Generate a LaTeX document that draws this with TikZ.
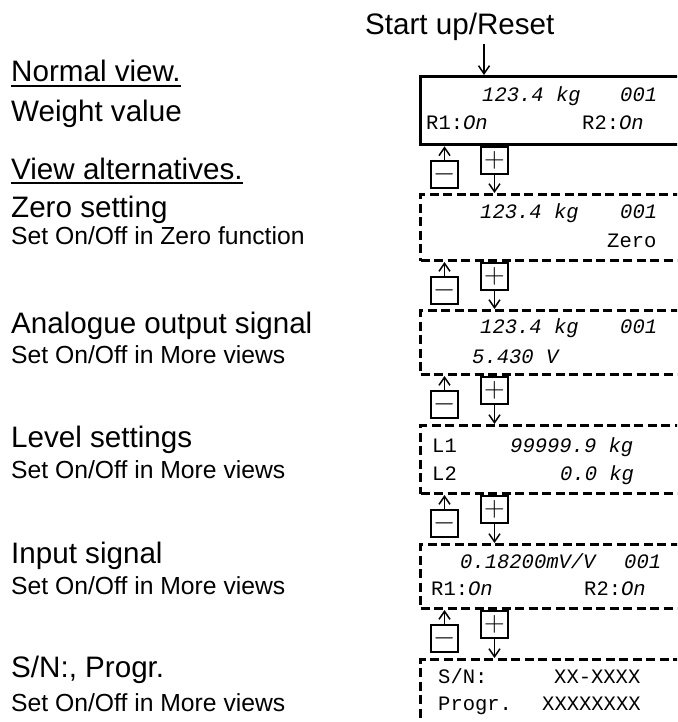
\documentclass[tikz,border=0pt]{standalone}
\usepackage{fontspec}
\usepackage{graphicx}
\newfontfamily\arial{Liberation Sans}
\newfontfamily\lcd{Liberation Mono}
\usetikzlibrary{arrows.meta}
\tikzset{
  big/.style={font=\arial\fontsize{29.6}{34}\selectfont, anchor=base west, inner sep=0pt},
  small/.style={font=\arial\fontsize{24.7}{28}\selectfont, anchor=base west, inner sep=0pt},
  lcdtext/.style={font=\lcd\fontsize{20.5}{24}\selectfont, anchor=base west, inner sep=0pt},
  solidbox/.style={draw, line width=3.3pt, minimum width=300pt, anchor=north west, inner sep=0pt},
  dashbox/.style={solidbox, line width=3pt, dash pattern=on 9pt off 4.5pt},
  keybox/.style={draw, line width=1.3pt, minimum size=27pt, inner sep=0pt, font=\fontsize{24.88}{26}\selectfont},
  flow/.style={line width=1.5pt, -{Straight Barb[length=8pt,width=11pt]}},
  uline/.style={line width=2pt},
}
\newcommand{\keyplus}{\scalebox{1.15}{$+$}}
\newcommand{\keyminus}{\scalebox{1.15}{$-$}}
\begin{document}
\begin{tikzpicture}[x=1pt,y=-1pt]
\clip (0,0) rectangle (677,722);
\fill[white] (0,0) rectangle (677,722);

% start
\node[big] (start) at (365,35) {Start up/Reset};
\coordinate (startarrow) at (484,44);

% display boxes
\node[solidbox, minimum height=68pt] (v1) at (419,75) {};
\node[dashbox, minimum height=66pt] (v2) at (419,193) {};
\node[dashbox, minimum height=64pt] (v3) at (419,309) {};
\node[dashbox, minimum height=68pt] (v4) at (419,424) {};
\node[dashbox, minimum height=64pt] (v5) at (419,543) {};
\node[dashbox, minimum height=80pt] (v6) at (419,658) {};

\draw[flow] (startarrow) -- (startarrow |- v1.north);

% keys and arrows
\foreach \b/\i/\j in {143/1/2, 259/2/3, 373/3/4, 492/4/5, 607/5/6}{
  \node[keybox] (p\i) at (494.5,\b+17.5) {\keyplus};
  \node[keybox] (m\i) at (444.5,\b+31.5) {\keyminus};
  \draw[flow] (m\i.north) -- (m\i.north |- v\i.south);
  \draw[flow] (p\i.south) -- (p\i.south |- v\j.north);
}

% box 1
\node[lcdtext] (a1) at (482,102) {\textit{123.4 kg}};
\node[lcdtext] (a2) at (620,102) {\textit{001}};
\node[lcdtext] (a3) at (426,130) {R1:\textit{On}};
\node[lcdtext] (a4) at (582,130) {R2:\textit{On}};
% box 2
\node[lcdtext] (b1) at (480,218) {\textit{123.4 kg}};
\node[lcdtext] (b2) at (620,218) {\textit{001}};
\node[lcdtext] (b3) at (607,247) {Zero};
% box 3
\node[lcdtext] (c1) at (480,333) {\textit{123.4 kg}};
\node[lcdtext] (c2) at (620,333) {\textit{001}};
\node[lcdtext] (c3) at (472,363) {\textit{5.430 V}};
% box 4
\node[lcdtext] (d1) at (432,452) {L1};
\node[lcdtext] (d2) at (510,452) {\textit{99999.9 kg}};
\node[lcdtext] (d3) at (432,480) {L2};
\node[lcdtext] (d4) at (560,480) {\textit{0.0 kg}};
% box 5
\node[lcdtext] (e1) at (460,568) {\textit{0.18200mV/V}};
\node[lcdtext] (e2) at (624,568) {\textit{001}};
\node[lcdtext] (e3) at (431,595) {R1:\textit{On}};
\node[lcdtext] (e4) at (584,595) {R2:\textit{On}};
% box 6
\node[lcdtext] (f1) at (438,683) {S/N:};
\node[lcdtext] (f2) at (554,683) {XX-XXXX};
\node[lcdtext] (f3) at (438,710) {Progr.};
\node[lcdtext] (f4) at (542,710) {XXXXXXXX};

% left labels
\node[big] (nv) at (11,82) {Normal view.};
\draw[uline] ([yshift=-4pt]nv.base west) -- ([yshift=-4pt]nv.base east);
\node[big] (wv) at (11,122) {Weight value};
\node[big] (va) at (11,179) {View alternatives.};
\draw[uline] ([yshift=-4pt]va.base west) -- ([yshift=-4pt]va.base east);
\node[big] (zs) at (11,217) {Zero setting};
\node[small] (zs2) at (11,244) {Set On/Off in Zero function};
\node[big] (ao) at (11,333) {Analogue output signal};
\node[small] (ao2) at (11,363) {Set On/Off in More views};
\node[big] (ls) at (11,447) {Level settings};
\node[small] (ls2) at (11,478) {Set On/Off in More views};
\node[big] (is) at (11,563) {Input signal};
\node[small] (is2) at (11,594) {Set On/Off in More views};
\node[big] (sn) at (11,677) {S/N:, Progr.};
\node[small] (sn2) at (11,711) {Set On/Off in More views};
\end{tikzpicture}
\end{document}
